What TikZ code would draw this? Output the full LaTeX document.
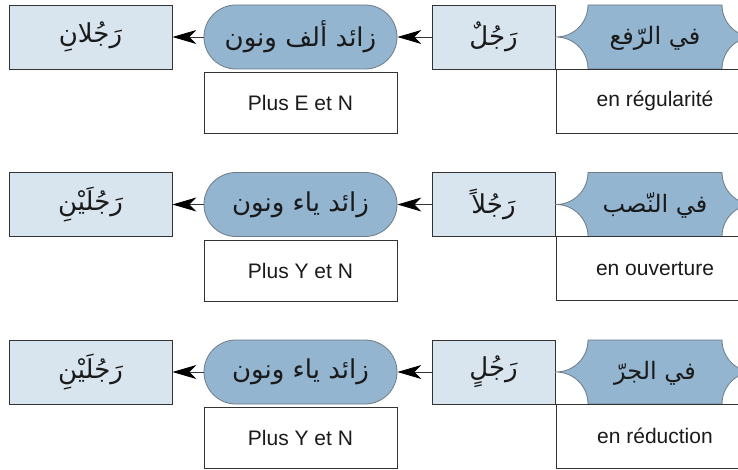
\documentclass[tikz,border=0pt]{standalone}
\usepackage{fontspec}
\setmainfont{Liberation Sans}
\newfontfamily\arabicfont[Script=Arabic]{DejaVu Sans}
\TeXXeTstate=1
\usetikzlibrary{arrows.meta}

\definecolor{paleblue}{HTML}{D8E4EE}
\definecolor{midblue}{HTML}{93B5D0}
\definecolor{edgegray}{HTML}{333333}
\definecolor{softedge}{HTML}{6E7C88}
\definecolor{ink}{HTML}{1A1A1A}

% One row: suffix, vertical shift, result, suffix rule, base form, case, two glosses
\newcommand\declrow[8]{%
  \begin{scope}[yshift=#2]
    % case tag with concave corners
    \path[casetag]
      (588,5) -- (722,5)
      .. controls (722,22.7) and (736.3,37) .. (754,37)
      .. controls (736.3,37) and (722,51.3) .. (722,69)
      -- (588,69)
      .. controls (588,51.3) and (573.7,37) .. (556,37)
      .. controls (573.7,37) and (588,22.7) .. (588,5) -- cycle;
    \coordinate (tip#1) at (556,37);
    \node[tagtext] (case#1) at (655,38) {#6};
    \node[gloss, minimum width=198pt, minimum height=64pt] (cgl#1) at (655,101) {#8};
    \node[wordbox, minimum width=123pt] (base#1) at (493.5,37) {#5};
    \node[rule] (rule#1) at (300.5,37) {#4};
    \node[gloss, minimum width=193pt, minimum height=61pt] (rgl#1) at (300.5,103) {#7};
    \node[wordbox, minimum width=163pt] (res#1) at (90.5,37) {#3};
    \draw[plain] (tip#1) -- (base#1.east);
    \draw[link] (base#1) -- (rule#1);
    \draw[link] (rule#1) -- (res#1);
  \end{scope}}

\begin{document}
\begin{tikzpicture}[x=1pt,y=-1pt,
  arfont/.style={font=\arabicfont\fontsize{26}{30}\selectfont},
  wordbox/.style={draw=edgegray, fill=paleblue, line width=0.9pt,
    minimum height=64pt, inner sep=0pt, text=ink, arfont},
  rule/.style={draw=softedge, fill=midblue, line width=0.8pt,
    rounded corners=31.9pt, minimum width=193pt, minimum height=64pt,
    inner sep=0pt, text=ink, arfont},
  casetag/.style={draw=softedge, fill=midblue, line width=0.8pt},
  tagtext/.style={inner sep=0pt, text=ink,
    font=\arabicfont\fontsize{24}{28}\selectfont},
  gloss/.style={draw=edgegray, fill=white, line width=0.9pt, inner sep=0pt,
    text=ink, font=\fontsize{21}{24}\selectfont},
  plain/.style={draw=softedge, line width=0.8pt},
  link/.style={draw=edgegray, line width=0.8pt,
    -{Stealth[length=24pt, width=14pt, inset=7pt, color=black]}}]
  \useasboundingbox (0,0) rectangle (738,470);
  \fill[white] (0,0) rectangle (738,470);

  \declrow{a}{0pt}{\beginR رَجُلانِ\endR}{\beginR زائد ألف ونون\endR}{\beginR رَجُلٌ\endR}{\beginR في الرّفع\endR}{Plus E et N}{en régularité}
  \declrow{b}{-167.5pt}{\beginR رَجُلَيْنِ\endR}{\beginR زائد ياء ونون\endR}{\beginR رَجُلاً\endR}{\beginR في النّصب\endR}{Plus Y et N}{en ouverture}
  \declrow{c}{-335pt}{\beginR رَجُلَيْنِ\endR}{\beginR زائد ياء ونون\endR}{\beginR رَجُلٍ\endR}{\beginR في الجرّ\endR}{Plus Y et N}{en réduction}
\end{tikzpicture}
\end{document}
